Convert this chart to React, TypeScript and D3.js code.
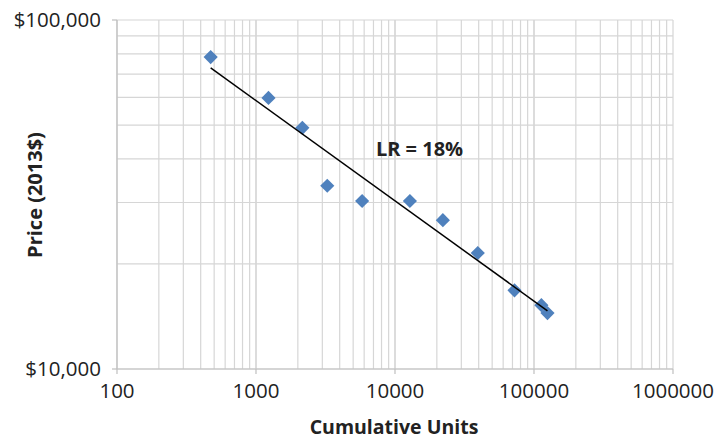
import React from "react";
import * as d3 from "d3";

const cumulativeUnits = [472, 1230, 2155, 3256, 5800, 12800, 22100, 39400, 72400, 113000, 125000];
const prices = [78300, 59800, 49100, 33500, 30300, 30300, 26700, 21500, 16800, 15240, 14460];
const xTickValues = [100, 1000, 10000, 100000, 1000000];
const xTickLabels = ["100", "1000", "10000", "100000", "1000000"];
const yTickValues = [10000, 100000];
const yTickLabels = ["$10,000", "$100,000"];
const annotation = "LR = 18%";

const W = 724, H = 441;
const left = 117, right = 673, top = 20, bottom = 369;
const font = "'Open Sans', 'Liberation Sans', sans-serif";

export default function App() {
  const x = d3.scaleLog().domain([100, 1000000]).range([left, right]);
  const y = d3.scaleLog().domain([10000, 100000]).range([bottom, top]);

  const minorX: number[] = [];
  for (let d = 100; d < 1000000; d *= 10) for (let k = 1; k <= 10; k++) minorX.push(d * k);
  const minorY: number[] = [];
  for (let k = 1; k <= 10; k++) minorY.push(10000 * k);

  // power-law regression in log space
  const lx = cumulativeUnits.map(Math.log10);
  const ly = prices.map(Math.log10);
  const mx = d3.mean(lx)!, my = d3.mean(ly)!;
  let sxy = 0, sxx = 0;
  lx.forEach((v, i) => { sxy += (v - mx) * (ly[i] - my); sxx += (v - mx) * (v - mx); });
  const b = sxy / sxx;
  const a = my - b * mx;
  const x0 = d3.min(cumulativeUnits)!, x1 = d3.max(cumulativeUnits)!;
  const fit = (v: number) => Math.pow(10, a + b * Math.log10(v));
  const line = d3.line<number>().x(v => x(v)).y(v => y(fit(v)));

  const diamond = d3.symbol().type(d3.symbolDiamond2).size(128)()!;

  return (
    <svg width={W} height={H} style={{ position: "absolute", left: 0, top: 0 }}>
      <rect width={W} height={H} fill="#fff" />
      {minorX.map((v, i) => (
        <line key={"gx" + i} x1={x(v)} x2={x(v)} y1={top} y2={bottom} stroke="#d6d6d6" strokeWidth={1.2} />
      ))}
      {minorY.map((v, i) => (
        <line key={"gy" + i} x1={left} x2={right} y1={y(v)} y2={y(v)} stroke="#d6d6d6" strokeWidth={1.2} />
      ))}
      <line x1={left} x2={left} y1={top} y2={bottom} stroke="#bfbfbf" strokeWidth={1.2} />
      <line x1={left} x2={right} y1={bottom} y2={bottom} stroke="#bfbfbf" strokeWidth={1.2} />
      {yTickValues.map((v, i) => (
        <g key={"yt" + i}>
          <line x1={left - 5} x2={left} y1={y(v)} y2={y(v)} stroke="#bfbfbf" strokeWidth={1.2} />
          <text x={101} y={y(v) + 7} textAnchor="end" fontFamily={font} fontSize={20.5} fill="#222">{yTickLabels[i]}</text>
        </g>
      ))}
      {xTickValues.map((v, i) => (
        <g key={"xt" + i}>
          <line x1={x(v)} x2={x(v)} y1={bottom} y2={bottom + 5} stroke="#bfbfbf" strokeWidth={1.2} />
          <text x={x(v)} y={398} textAnchor="middle" fontFamily={font} fontSize={20.5} fill="#222">{xTickLabels[i]}</text>
        </g>
      ))}
      {cumulativeUnits.map((v, i) => (
        <path key={"p" + i} d={diamond} transform={`translate(${x(v)},${y(prices[i])})`} fill="#4f81bd" />
      ))}
      <path d={line([x0, x1])!} stroke="#000" strokeWidth={1.5} fill="none" />
      <text x={419.5} y={156} textAnchor="middle" fontFamily={font} fontSize={20} fontWeight="bold" fill="#222">{annotation}</text>
      <text x={394} y={434} textAnchor="middle" fontFamily={font} fontSize={19.5} fontWeight="bold" fill="#222">Cumulative Units</text>
      <text transform={`translate(42,195) rotate(-90)`} textAnchor="middle" fontFamily={font} fontSize={20} fontWeight="bold" fill="#222">Price (2013$)</text>
    </svg>
  );
}
